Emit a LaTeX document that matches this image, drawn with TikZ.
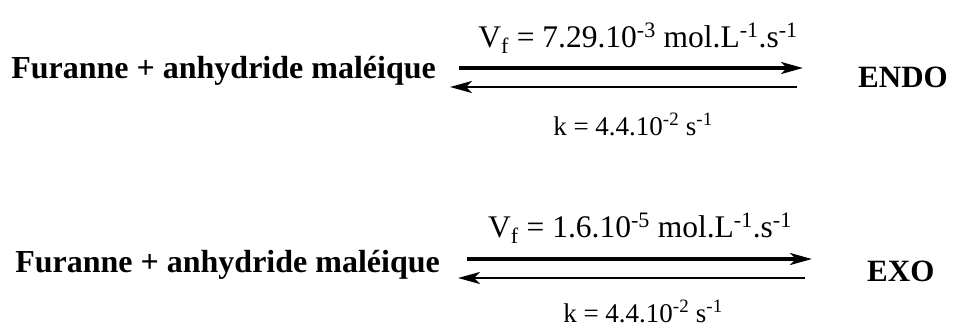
\documentclass[tikz,border=0pt]{standalone}
\usepackage{fontspec}
\setmainfont{Liberation Serif}
\usetikzlibrary{arrows.meta}
\tikzset{
  react/.style={font=\fontsize{32}{38}\selectfont\bfseries, inner sep=0pt},
  prod/.style={font=\fontsize{31}{37}\selectfont\bfseries, inner sep=0pt},
  rate/.style={font=\fontsize{31.5}{37}\selectfont, inner sep=0pt},
  kval/.style={font=\fontsize{27}{32}\selectfont, inner sep=0pt},
  fwd/.style={line width=3.6pt, -{Stealth[length=22pt,width=12pt,inset=6pt]}},
  bwd/.style={line width=2.8pt, -{Stealth[length=22pt,width=12pt,inset=6pt]}},
}
\begin{document}
\begin{tikzpicture}[x=1pt,y=-1pt]
\useasboundingbox (0,0) rectangle (953,327);
% top reaction
\node[react, anchor=base east] (r1) at (436,78) {Furanne + anhydride maléique};
\node[prod, anchor=base west] (p1) at (858,87) {ENDO};
\coordinate (f1s) at (459,68);
\coordinate (f1e) at (803,68);
\coordinate (b1s) at (797,87);
\coordinate (b1e) at (450,87);
\draw[fwd] (f1s) -- (f1e);
\draw[bwd] (b1s) -- (b1e);
\node[rate, anchor=base] (v1) at (638,47) {V\textsubscript{f} = 7.29.10\textsuperscript{-3} mol.L\textsuperscript{-1}.s\textsuperscript{-1}};
\node[kval, anchor=base] (k1) at (633,135) {k = 4.4.10\textsuperscript{-2} s\textsuperscript{-1}};
% bottom reaction
\node[react, anchor=base east] (r2) at (440,272) {Furanne + anhydride maléique};
\node[prod, anchor=base west] (p2) at (867,281) {EXO};
\coordinate (f2s) at (467,259);
\coordinate (f2e) at (812,259);
\coordinate (b2s) at (805,278);
\coordinate (b2e) at (458,278);
\draw[fwd] (f2s) -- (f2e);
\draw[bwd] (b2s) -- (b2e);
\node[rate, anchor=base] (v2) at (640,237) {V\textsubscript{f} = 1.6.10\textsuperscript{-5} mol.L\textsuperscript{-1}.s\textsuperscript{-1}};
\node[kval, anchor=base] (k2) at (643,322) {k = 4.4.10\textsuperscript{-2} s\textsuperscript{-1}};
\end{tikzpicture}
\end{document}
